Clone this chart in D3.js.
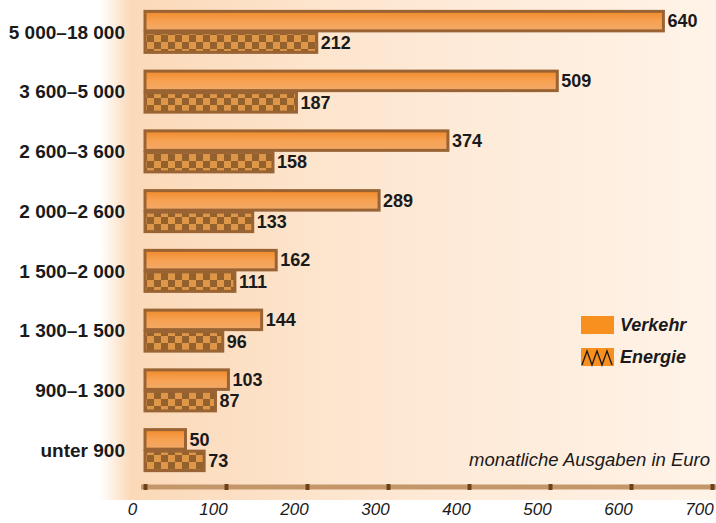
<!DOCTYPE html>
<html>
<head>
<meta charset="utf-8">
<script src="https://cdn.jsdelivr.net/npm/d3@7"></script>
<style>
  body { margin: 0; background: #fff; }
  text { font-family: "Liberation Sans", Arial, sans-serif; }
</style>
</head>
<body>
<div id="chart"></div>
<script>
// monthly spending per income class
const categories = ["5 000–18 000", "3 600–5 000", "2 600–3 600", "2 000–2 600",
                    "1 500–2 000", "1 300–1 500", "900–1 300", "unter 900"]
const verkehr = [640, 509, 374, 289, 162, 144, 103, 50]
const energie = [212, 187, 158, 133, 111, 96, 87, 73]
const series = ["Verkehr", "Energie"]
const xTicks = [0, 100, 200, 300, 400, 500, 600, 700]

const width = 716, height = 523

let svg = d3.select("#chart")
    .append("svg")
    .attr("width", width)
    .attr("height", height)

let defs = svg.append("defs")

// soft peach background behind the plot
let bg = defs.append("linearGradient").attr("id", "bg")
bg.append("stop").attr("offset", "0%").attr("stop-color", "#ffffff")
bg.append("stop").attr("offset", "5%").attr("stop-color", "#fbd9b8")
bg.append("stop").attr("offset", "40%").attr("stop-color", "#fde6d0")
bg.append("stop").attr("offset", "100%").attr("stop-color", "#fff3e8")

let barGrad = defs.append("linearGradient").attr("id", "barGrad")
    .attr("x1", 0).attr("y1", 0).attr("x2", 0).attr("y2", 1)
barGrad.append("stop").attr("offset", "0%").attr("stop-color", "#ef8a2a")
barGrad.append("stop").attr("offset", "50%").attr("stop-color", "#f7a152")
barGrad.append("stop").attr("offset", "100%").attr("stop-color", "#f2aa68")

// checkered fill for Energie
let checker = defs.append("pattern").attr("id", "checker")
    .attr("patternUnits", "userSpaceOnUse")
    .attr("width", 14).attr("height", 14)
checker.append("rect").attr("width", 14).attr("height", 14).attr("fill", "#de9748")
checker.append("rect").attr("width", 7).attr("height", 7).attr("fill", "#94602c")
checker.append("rect").attr("x", 7).attr("y", 7).attr("width", 7).attr("height", 7).attr("fill", "#94602c")

svg.append("rect")
    .attr("x", 100).attr("y", 0)
    .attr("width", width - 100).attr("height", 500)
    .attr("fill", "url(#bg)")

let xScale = d3.scaleLinear()
    .domain([0, 700])
    .range([145, 712])

let yScale = d3.scaleBand()
    .domain(categories)
    .range([2, 480])
    .paddingInner(0.28)
    .paddingOuter(0.14)

let subScale = d3.scaleBand()
    .domain(series)
    .range([0, yScale.bandwidth()])

let groups = svg.append("g")
    .selectAll("g")
    .data(categories).enter()
    .append("g")
    .attr("transform", d => `translate(0,${yScale(d)})`)

// category labels
groups.append("text")
    .attr("x", 125)
    .attr("y", yScale.bandwidth() / 2)
    .attr("dy", "0.35em")
    .attr("text-anchor", "end")
    .style("font-size", "19px")
    .style("font-weight", "bold")
    .style("fill", "#1a1a1a")
    .text(d => d)

let rows = []
categories.forEach((c, i) => {
    rows.push({ cat: c, s: "Verkehr", v: verkehr[i] })
    rows.push({ cat: c, s: "Energie", v: energie[i] })
})

let bars = svg.append("g")
bars.selectAll("rect")
    .data(rows).enter()
    .append("rect")
    .attr("x", xScale(0))
    .attr("y", d => yScale(d.cat) + subScale(d.s) + 1)
    .attr("width", d => xScale(d.v) - xScale(0))
    .attr("height", subScale.bandwidth() - 2)
    .attr("fill", d => d.s == "Verkehr" ? "url(#barGrad)" : "url(#checker)")
    .attr("stroke", "#9a6333")
    .attr("stroke-width", 3)

bars.selectAll("text")
    .data(rows).enter()
    .append("text")
    .attr("x", d => xScale(d.v) + 4)
    .attr("y", d => yScale(d.cat) + subScale(d.s) + subScale.bandwidth() / 2)
    .attr("dy", "0.35em")
    .style("font-size", "18px")
    .style("font-weight", "bold")
    .style("fill", "#1a1a1a")
    .text(d => d.v)

// x axis
let xAxis = d3.axisBottom(xScale)
    .tickValues(xTicks)
    .tickSizeInner(3)
    .tickSizeOuter(0)

let ax = svg.append("g")
    .attr("transform", "translate(0,487)")
    .call(xAxis)
ax.select(".domain")
    .attr("stroke", "#c4976a")
    .attr("stroke-width", 5)
    .attr("d", `M${xScale(0) - 4},0H${xScale(700) + 4}`)
ax.selectAll(".tick line")
    .attr("y1", -3).attr("y2", 3)
    .attr("stroke", "#6e4218")
    .attr("stroke-width", 4)
ax.selectAll(".tick text")
    .attr("y", 16)
    .attr("dx", -13)
    .style("font-size", "17px")
    .style("font-style", "italic")
    .style("fill", "#1a1a1a")

svg.append("text")
    .attr("x", 710)
    .attr("y", 466)
    .attr("text-anchor", "end")
    .style("font-size", "18.5px")
    .style("font-style", "italic")
    .style("fill", "#1a1a1a")
    .text("monatliche Ausgaben in Euro")

// legend
let legend = svg.append("g").attr("transform", "translate(581,316)")
legend.append("rect")
    .attr("width", 33).attr("height", 18)
    .attr("fill", "#f7901e")
legend.append("rect")
    .attr("y", 32)
    .attr("width", 33).attr("height", 18)
    .attr("fill", "#f7901e")
legend.append("path")
    .attr("d", "M1,49 L6,35 L11,49 L16,35 L21,49 L26,35 L31,49")
    .attr("fill", "none")
    .attr("stroke", "#1a1a1a")
    .attr("stroke-width", 1.3)
legend.selectAll("text")
    .data(series).enter()
    .append("text")
    .attr("x", 39)
    .attr("y", (d, i) => 9 + i * 32)
    .attr("dy", "0.35em")
    .style("font-size", "18px")
    .style("font-weight", "bold")
    .style("font-style", "italic")
    .style("fill", "#1a1a1a")
    .text(d => d)
</script>
</body>
</html>
